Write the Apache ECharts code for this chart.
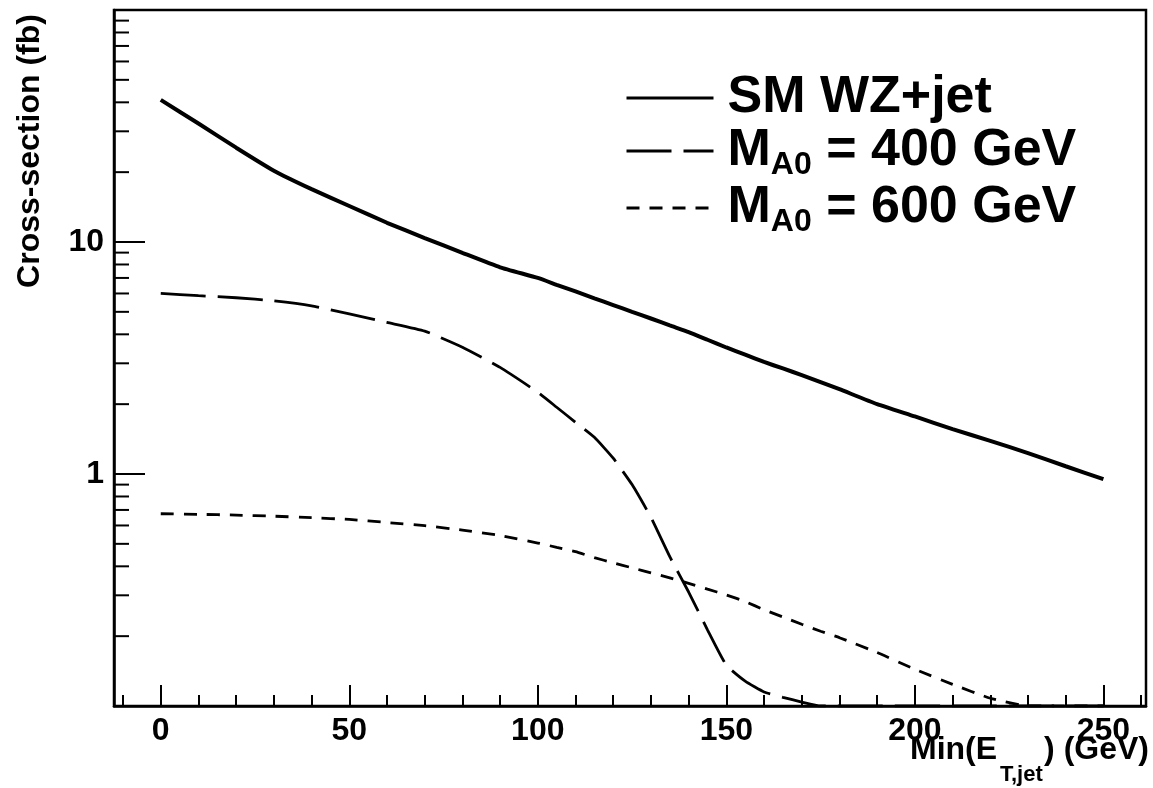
<!DOCTYPE html>
<html>
<head>
<meta charset="utf-8">
<script src="https://cdn.jsdelivr.net/npm/echarts@6/dist/echarts.min.js"></script>
<style>
  html, body { margin: 0; padding: 0; background: #fff; }
  #chart { width: 1153px; height: 788px; }
</style>
</head>
<body>
<div id="chart"></div>
<script>
// cut on the jet transverse energy (GeV)
var cutGeV = [0, 10, 20, 30, 40, 50, 60, 70, 80, 90, 100, 105, 110, 115, 120, 125, 130, 135, 140, 145,
              150, 155, 160, 165, 170, 175, 180, 190, 200, 210, 220, 230, 240, 250];

// cross-sections (fb)
var smWZjet = [41.0, 32.4, 25.5, 20.3, 16.9, 14.3, 12.1, 10.4, 8.98, 7.78, 7.0, 6.54, 6.12, 5.72, 5.35, 5.0, 4.68, 4.37, 4.09, 3.79,
               3.51, 3.27, 3.04, 2.85, 2.67, 2.49, 2.32, 2.0, 1.77, 1.56, 1.39, 1.23, 1.08, 0.95];
var mA400 = [6.0, 5.87, 5.75, 5.58, 5.31, 4.90, 4.50, 4.13, 3.52, 2.88, 2.25, 1.94, 1.67, 1.44, 1.17, 0.90, 0.65, 0.44, 0.31, 0.213,
             0.150, 0.128, 0.115, 0.109, 0.104, 0.1, 0.1, 0.1, 0.1, 0.1, 0.1, 0.1, 0.1, 0.1];
var mA600 = [0.674, 0.670, 0.665, 0.658, 0.648, 0.637, 0.618, 0.599, 0.573, 0.543, 0.504, 0.483, 0.463, 0.436, 0.414, 0.394, 0.375, 0.357, 0.338, 0.319,
             0.301, 0.282, 0.260, 0.242, 0.225, 0.210, 0.197, 0.170, 0.144, 0.124, 0.108, 0.1, 0.1, 0.1];

// axis ticks
var xMajorTicks = [0, 50, 100, 150, 200, 250];
var xMinorTicks = [-10, 10, 20, 30, 40, 60, 70, 80, 90, 110, 120, 130, 140, 160, 170, 180, 190, 210, 220, 230, 240, 260];
var yLabels = [1, 10];
var yMinorTicks = [0.2, 0.3, 0.4, 0.5, 0.6, 0.7, 0.8, 0.9, 2, 3, 4, 5, 6, 7, 8, 9, 20, 30, 40, 50, 60, 70, 80, 90];

var X_MIN = -12.4, X_MAX = 261.3;
var FONT = '"Liberation Sans", Arial, Helvetica, sans-serif';

function pairs(vals) {
    return cutGeV.map(function (x, i) { return [x, vals[i]]; });
}

var legendText = {
    'SM WZ+jet': '{m|SM WZ+jet}',
    'MA0_400': '{m|M}{s|A0}{m| = 400 GeV}',
    'MA0_600': '{m|M}{s|A0}{m| = 600 GeV}'
};

var chart = echarts.init(document.getElementById('chart'));
chart.setOption({
    animation: false,
    backgroundColor: '#fff',
    grid: {
        left: 114, top: 10, right: 7, bottom: 82,
        show: true, borderColor: '#000', borderWidth: 2.5, backgroundColor: 'transparent'
    },
    xAxis: [{
        type: 'value', min: X_MIN, max: X_MAX, position: 'bottom',
        axisLine: { onZero: false, lineStyle: { color: '#000', width: 2.5 } },
        axisTick: { inside: true, length: 21, customValues: xMajorTicks, lineStyle: { color: '#000', width: 2 } },
        axisLabel: {
            customValues: xMajorTicks, margin: 9,
            color: '#000', fontFamily: FONT, fontWeight: 'bold', fontSize: 32
        },
        splitLine: { show: false }
    }, {
        // minor ticks only
        type: 'value', min: X_MIN, max: X_MAX, position: 'bottom',
        axisLine: { show: false, onZero: false },
        axisTick: { inside: true, length: 11, customValues: xMinorTicks, lineStyle: { color: '#000', width: 2 } },
        axisLabel: { show: false },
        splitLine: { show: false }
    }],
    yAxis: {
        type: 'log', logBase: 10, min: 0.1, max: 100, position: 'left',
        axisLine: { onZero: false, lineStyle: { color: '#000', width: 2.5 } },
        axisTick: { inside: true, length: 31, lineStyle: { color: '#000', width: 2 } },
        axisLabel: {
            margin: 10, color: '#000', fontFamily: FONT, fontWeight: 'bold', fontSize: 32,
            formatter: function (v) {
                for (var i = 0; i < yLabels.length; i++) {
                    if (Math.abs(v - yLabels[i]) < 1e-6 * yLabels[i]) return String(yLabels[i]);
                }
                return '';
            }
        },
        splitLine: { show: false }
    },
    legend: {
        orient: 'vertical', left: 625, top: 72, padding: 0,
        itemGap: 1, itemWidth: 87, itemHeight: 20,
        selectedMode: false,
        data: ['SM WZ+jet', 'MA0_400', 'MA0_600'],
        itemStyle: { opacity: 0 },
        lineStyle: { width: 3 },
        formatter: function (name) { return legendText[name]; },
        textStyle: {
            color: '#000', padding: [0, 0, 0, 9],
            rich: {
                m: { fontFamily: FONT, fontWeight: 'bold', fontSize: 52, lineHeight: 60, color: '#000' },
                s: { fontFamily: FONT, fontWeight: 'bold', fontSize: 32, lineHeight: 18, verticalAlign: 'bottom', color: '#000' }
            }
        }
    },
    graphic: [{
        type: 'text', x: 30, y: 151, rotation: Math.PI / 2,
        style: {
            text: 'Cross-section (fb)', fill: '#000',
            font: 'bold 32px ' + FONT,
            align: 'center', verticalAlign: 'middle', textAlign: 'center', textVerticalAlign: 'middle'
        }
    }, {
        type: 'text', x: 910, y: 750,
        style: {
            text: 'Min(E', fill: '#000', font: 'bold 32px ' + FONT,
            align: 'left', verticalAlign: 'middle', textAlign: 'left', textVerticalAlign: 'middle'
        }
    }, {
        type: 'text', x: 1000, y: 775,
        style: {
            text: 'T,jet', fill: '#000', font: 'bold 22px ' + FONT,
            align: 'left', verticalAlign: 'middle', textAlign: 'left', textVerticalAlign: 'middle'
        }
    }, {
        type: 'text', x: 1149, y: 750,
        style: {
            text: ') (GeV)', fill: '#000', font: 'bold 32px ' + FONT,
            align: 'right', verticalAlign: 'middle', textAlign: 'right', textVerticalAlign: 'middle'
        }
    }],
    series: [{
        name: 'SM WZ+jet', type: 'line', data: pairs(smWZjet),
        symbol: 'none', showSymbol: false, smooth: 0.15,
        lineStyle: { color: '#000', width: 4 }, itemStyle: { color: '#000' }
    }, {
        name: 'MA0_400', type: 'line', data: pairs(mA400),
        symbol: 'none', showSymbol: false, smooth: 0.15,
        lineStyle: { color: '#000', width: 2.8, type: [45, 12] }, itemStyle: { color: '#000' }
    }, {
        name: 'MA0_600', type: 'line', data: pairs(mA600),
        symbol: 'none', showSymbol: false, smooth: 0.15,
        lineStyle: { color: '#000', width: 2.8, type: [13, 10] }, itemStyle: { color: '#000' }
    }, {
        // minor ticks of the log axis
        type: 'custom', silent: true, z: 5,
        data: yMinorTicks.map(function (v) { return [X_MIN, v]; }),
        renderItem: function (params, api) {
            var p = api.coord([api.value(0), api.value(1)]);
            return {
                type: 'line',
                shape: { x1: p[0], y1: p[1], x2: p[0] + 15, y2: p[1] },
                style: { stroke: '#000', lineWidth: 2 }
            };
        }
    }]
});
</script>
</body>
</html>
